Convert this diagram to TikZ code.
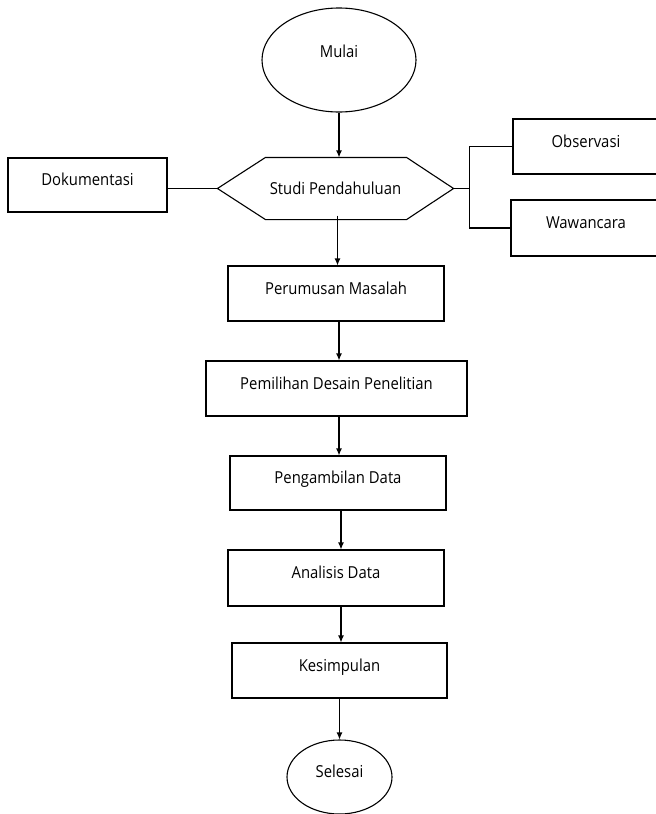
\documentclass[tikz,border=0pt]{standalone}
\usepackage{fontspec}
\setmainfont[FakeStretch=0.9]{Open Sans}
\usetikzlibrary{shapes.geometric,arrows.meta}
\begin{document}
\begin{tikzpicture}[x=1pt,y=-1pt,line width=1.1pt,
  lbl/.style={font=\fontsize{16.5}{19}\selectfont, text=black},
  box/.style={lbl, draw, rectangle, minimum height=55pt, inner sep=0pt, text height=12pt, text depth=11pt},
  term/.style={lbl, draw, ellipse, inner sep=0pt},
  arr/.style={-{Latex[length=7pt,width=6pt]}}]
\clip (0,0) rectangle (656,814);
% terminals
\node[term, minimum width=154pt, minimum height=104pt, text height=10pt, text depth=15pt] (mulai) at (339,60) {Mulai};
\node[term, minimum width=105pt, minimum height=74pt, text height=12pt, text depth=11pt] (selesai) at (339.5,777) {Selesai};
% preliminary study hexagon
\node[lbl, minimum width=235pt, minimum height=61pt, inner sep=0pt, text height=12pt, text depth=1pt] (studi) at (335.5,188.5) {Studi Pendahuluan};
\draw (studi.west) -- ([xshift=48pt]studi.north west) -- ([xshift=-47pt]studi.north east)
  -- (studi.east) -- ([xshift=-47pt]studi.south east) -- ([xshift=48pt]studi.south west) -- cycle;
% side boxes
\node[box, minimum width=159pt, minimum height=54pt] (doku) at (87.5,185) {Dokumentasi};
\node[box, minimum width=146pt, minimum height=55pt] (obs) at (586,146.5) {Observasi};
\node[box, minimum width=150pt, minimum height=56pt] (waw) at (586,228) {Wawancara};
% main steps
\node[box, minimum width=216pt] (rumus) at (336,293.5) {Perumusan Masalah};
\node[box, minimum width=261pt] (desain) at (336.5,388.5) {Pemilihan Desain Penelitian};
\node[box, minimum width=216pt, minimum height=54pt] (ambil) at (338,483) {Pengambilan Data};
\node[box, minimum width=216pt, minimum height=56pt] (analisis) at (336,578) {Analisis Data};
\node[box, minimum width=215pt] (simpul) at (339.5,670.5) {Kesimpulan};
% connectors
\draw (doku.east |- studi.west) -- (studi.west);
\draw (studi.east) -- ++(16,0) coordinate (br);
\draw (obs.west) -| (br) |- (waw.west);
\draw[arr] (mulai.south) -- (mulai.south |- studi.north);
\draw[arr] ([xshift=2pt,yshift=4pt]studi.south) -- ([xshift=2pt]studi.south |- rumus.north);
\draw[arr] ([xshift=3pt]rumus.south) -- ([xshift=3pt]rumus.south |- desain.north);
\draw[arr] ([xshift=2.5pt]desain.south) -- ([xshift=2.5pt]desain.south |- ambil.north);
\draw[arr] ([xshift=3pt]ambil.south) -- ([xshift=3pt]ambil.south |- analisis.north);
\draw[arr] ([xshift=5pt]analisis.south) -- ([xshift=5pt]analisis.south |- simpul.north);
\draw[arr] (simpul.south) -- (simpul.south |- selesai.north);
\end{tikzpicture}
\end{document}
